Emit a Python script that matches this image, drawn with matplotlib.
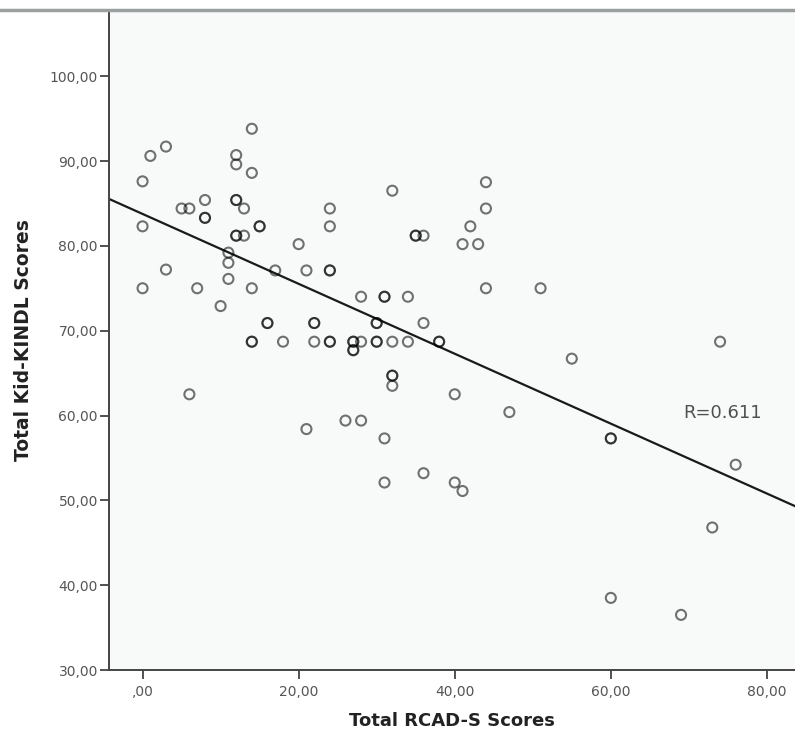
import numpy as np
import matplotlib
matplotlib.use("Agg")
import matplotlib.pyplot as plt
from matplotlib.ticker import FuncFormatter

# Total RCAD-S scores (x) and Total Kid-KINDL scores (y); repeated pairs are overlapping cases
rcad = [0, 0, 0, 1, 3, 3, 5, 6, 6, 7, 8, 8, 8, 10, 11, 11, 11, 12, 12, 12, 12, 12, 12,
        13, 13, 14, 14, 14, 14, 14, 15, 15, 16, 16, 17, 18, 20, 21, 21, 22, 22, 22,
        24, 24, 24, 24, 24, 24, 26, 27, 27, 27, 27, 28, 28, 28, 30, 30, 30, 30, 31, 31,
        31, 31, 32, 32, 32, 32, 32, 34, 34, 35, 35, 36, 36, 36, 38, 38, 40, 40, 41, 41,
        42, 43, 44, 44, 44, 47, 51, 55, 60, 60, 60, 69, 73, 74, 76]
kindl = [87.6, 82.3, 75.0, 90.6, 91.7, 77.2, 84.4, 84.4, 62.5, 75.0, 85.4, 83.3, 83.3,
         72.9, 79.2, 78.0, 76.1, 90.7, 89.6, 85.4, 85.4, 81.2, 81.2, 84.4, 81.2, 93.8, 88.6,
         75.0, 68.7, 68.7, 82.3, 82.3, 70.9, 70.9, 77.1, 68.7, 80.2, 77.1, 58.4, 70.9, 70.9,
         68.7, 84.4, 82.3, 77.1, 77.1, 68.7, 68.7, 59.4, 68.7, 68.7, 67.7, 67.7, 74.0, 68.7,
         59.4, 70.9, 70.9, 68.7, 68.7, 74.0, 74.0, 57.3, 52.1, 86.5, 68.7, 64.7, 64.7, 63.5,
         74.0, 68.7, 81.2, 81.2, 81.2, 70.9, 53.2, 68.7, 68.7, 62.5, 52.1, 80.2, 51.1, 82.3,
         80.2, 87.5, 84.4, 75.0, 60.4, 75.0, 66.7, 57.3, 57.3, 38.5, 36.5, 46.8, 68.7, 54.2]

# fit line
fit_intercept = 83.76
fit_slope = -0.412
r_label = "R=0.611"

x_ticks = [0, 20, 40, 60, 80]
y_ticks = [30, 40, 50, 60, 70, 80, 90, 100]


def spss_fmt(v, pos):
    # SPSS style: comma decimals, zero shown as ",00"
    s = f"{v:.2f}".replace(".", ",")
    return s[1:] if s.startswith("0,") else s


plt.rcParams.update({
    "font.family": "DejaVu Sans",
})
fig = plt.figure(figsize=(7.95, 7.36), dpi=100)
ax = fig.add_axes([109 / 795, 66 / 736, 1 - 109 / 795, 660 / 736])
ax.set_facecolor("#F8F9F9")

ax.scatter(rcad, kindl, s=52, facecolors="none", edgecolors="black",
           linewidths=1.5, alpha=0.55, zorder=3)

xs = np.array([-10, 90])
ax.plot(xs, fit_intercept + fit_slope * xs, color="#1a1a1a", linewidth=1.6, zorder=2)
ax.text(69.3, 60.3, r_label, ha="left", va="center", fontsize=13, color="#505050")

ax.set_xlim(-4.3, 83.6)
ax.set_ylim(30, 107.8)
ax.set_xticks(x_ticks)
ax.set_yticks(y_ticks)
ax.xaxis.set_major_formatter(FuncFormatter(spss_fmt))
ax.yaxis.set_major_formatter(FuncFormatter(spss_fmt))
ax.tick_params(axis="both", direction="out", length=6.5, width=1.2, color="#333333",
               labelsize=10, labelcolor="#555555")
ax.tick_params(axis="y", pad=1.5)
ax.tick_params(axis="x", pad=4)

for side in ("top", "right"):
    ax.spines[side].set_visible(False)
for side in ("left", "bottom"):
    ax.spines[side].set_color("#444444")
    ax.spines[side].set_linewidth(1.4)

ax.set_xlabel("Total RCAD-S Scores", fontsize=13, fontweight="bold", color="#222222", labelpad=10)
ax.set_ylabel("Total Kid-KINDL Scores", fontsize=13.5, fontweight="bold", color="#222222", labelpad=12)

# grey frame line across the top
fig.add_artist(plt.Line2D([0, 1], [1 - 10 / 736, 1 - 10 / 736], color="#9aa0a0",
                          linewidth=2.5, transform=fig.transFigure))

fig.savefig("out.png", dpi=100, facecolor="white")
